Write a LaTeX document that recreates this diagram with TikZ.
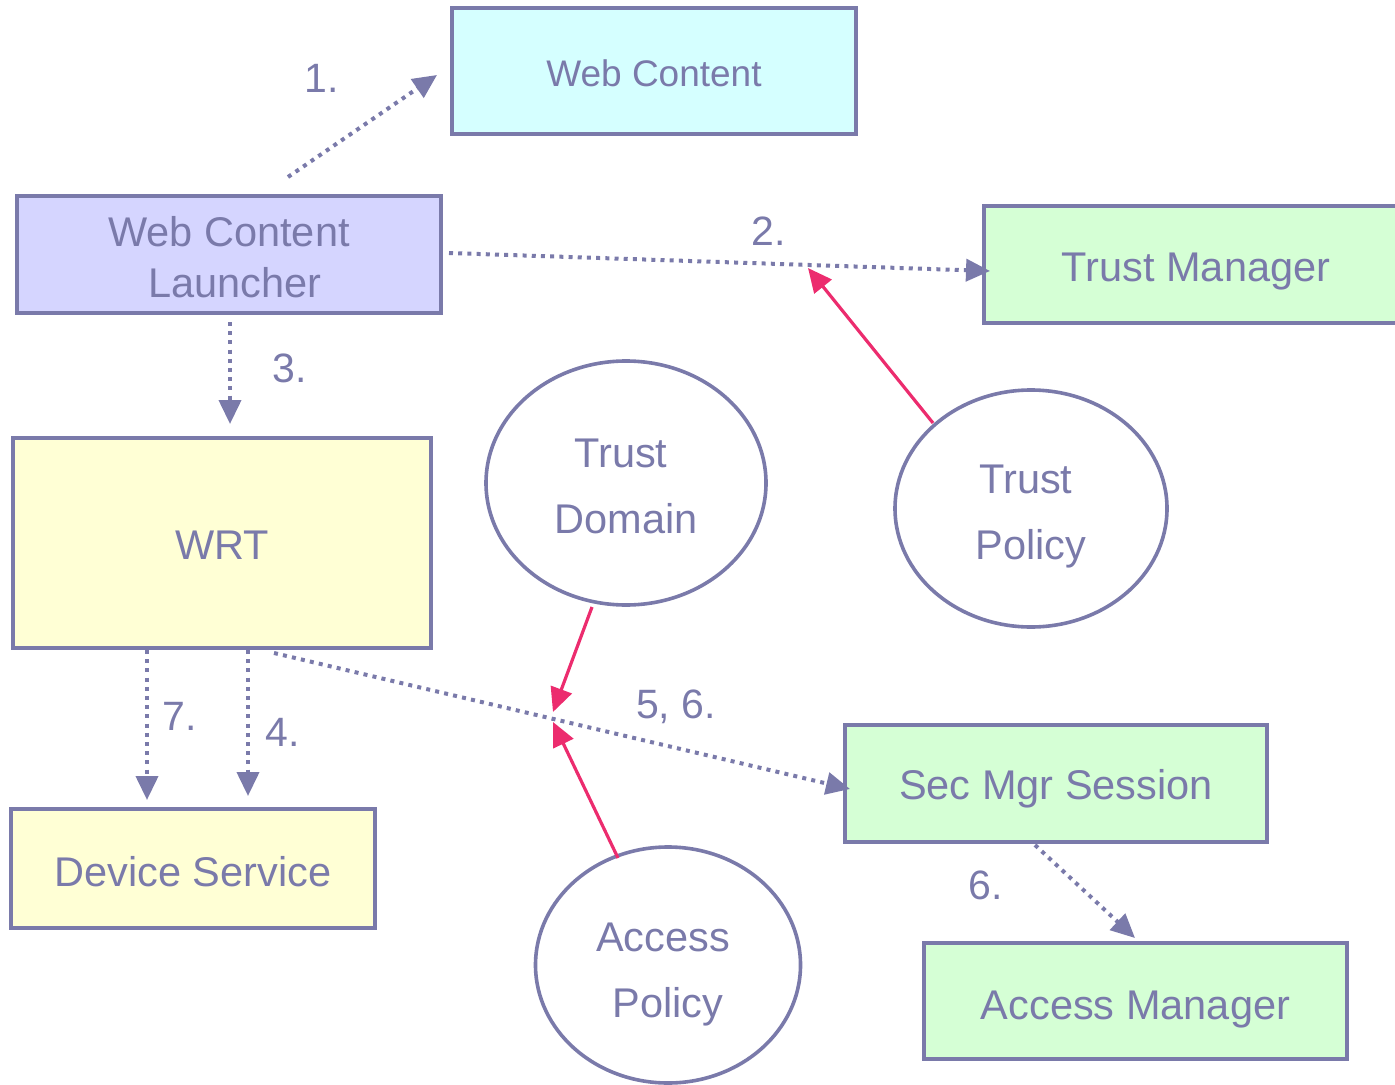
\documentclass[tikz,border=0pt]{standalone}
\usepackage{fontspec}
\setmainfont{Liberation Sans}
\usetikzlibrary{arrows.meta,shapes.geometric}
\definecolor{ink}{HTML}{7A7AAA}
\definecolor{hot}{HTML}{EC2C6E}
\definecolor{cyanfill}{HTML}{D5FFFF}
\definecolor{lilacfill}{HTML}{D5D5FF}
\definecolor{greenfill}{HTML}{D5FFD5}
\definecolor{yellowfill}{HTML}{FFFFD5}
% lower a line of text without changing its box
\newcommand\dropline[2]{\raisebox{-#1}[\height][\depth]{#2}}
\tikzset{
  box/.style={draw=ink, line width=2pt, rectangle, inner sep=0pt, text=ink,
    align=center, font=\fontsize{20.75}{25.5}\selectfont},
  bubble/.style={draw=ink, line width=1.8pt, ellipse, fill=white, inner sep=0pt,
    text=ink, align=center, font=\fontsize{20.75}{33}\selectfont},
  flow/.style={draw=ink, line width=2pt, dash pattern=on 2pt off 2.6pt,
    -{Triangle[length=12pt,width=11pt]}},
  rule/.style={draw=hot, line width=1.6pt, -{Triangle[length=12pt,width=11pt]}},
  steplabel/.style={text=ink, font=\fontsize{20.5}{24}\selectfont, inner sep=0pt}
}
\begin{document}
\begin{tikzpicture}[x=0.5pt, y=-0.5pt]
  \useasboundingbox (0,0) rectangle (1395,1085);
  \clip (0,0) rectangle (1395,1085);

  % components
  \node[box, fill=cyanfill, minimum width=202pt, minimum height=63pt,
        font=\fontsize{18.5}{22}\selectfont] (wc) at (654,71)
        {\dropline{1pt}{Web Content}};
  \node[box, fill=lilacfill, minimum width=212pt, minimum height=58.5pt] (wcl)
        at (229,254.5)
        {\dropline{1.25pt}{Web Content}\\\dropline{1.25pt}{\hspace*{6pt}Launcher}};
  \node[box, fill=greenfill, minimum width=212pt, minimum height=58.5pt] (tm)
        at (1196,264.5) {\dropline{3.5pt}{Trust Manager}};
  \node[box, fill=yellowfill, minimum width=209pt, minimum height=105pt] (wrt)
        at (222,543) {\dropline{1pt}{WRT}};
  \node[box, fill=yellowfill, minimum width=182pt, minimum height=59.5pt] (ds)
        at (193,868.5) {\dropline{1.5pt}{Device Service}};
  \node[box, fill=greenfill, minimum width=211pt, minimum height=58.5pt] (sms)
        at (1056,783.5) {\dropline{2.5pt}{Sec Mgr Session}};
  \node[box, fill=greenfill, minimum width=211.5pt, minimum height=58pt] (am)
        at (1135.5,1001) {\dropline{4.5pt}{Access Manager}};

  % policies and domains
  \node[bubble, minimum width=140pt, minimum height=122pt] (td) at (626,483)
        {\dropline{1.5pt}{Trust\hspace*{5pt}}\\\dropline{1.5pt}{Domain}};
  \node[bubble, minimum width=136pt, minimum height=118.5pt] (tp) at (1031,508.5)
        {\dropline{4pt}{Trust\hspace*{5pt}}\\\dropline{4pt}{Policy}};
  \node[bubble, minimum width=132.5pt, minimum height=118pt] (ap) at (668,965)
        {\dropline{5pt}{Access\hspace*{5pt}}\\\dropline{5pt}{Policy}};

  % connector end points
  \coordinate (s1) at (288,177);  \coordinate (e1) at (437,75);
  \coordinate (s2) at (449,253);  \coordinate (e2) at (990,271);
  \coordinate (s3) at (230,322);  \coordinate (e3) at (230,424);
  \coordinate (s4) at (248,650);  \coordinate (e4) at (248,796);
  \coordinate (s7) at (147,650);  \coordinate (e7) at (147,800);
  \coordinate (s5) at (274,653);  \coordinate (e5) at (850,789);
  \coordinate (s6) at (1035,845); \coordinate (e6) at (1135,938);
  \coordinate (tpout) at (933,423);  \coordinate (tpin) at (808,268);
  \coordinate (tdout) at (592,607);  \coordinate (tdin) at (553,712);
  \coordinate (apout) at (618,858);  \coordinate (apin) at (553,722);

  % message flow
  \draw[flow] (s1) -- (e1);
  \draw[flow] (s2) -- (e2);
  \draw[flow] (s3) -- (e3);
  \draw[flow] (s4) -- (e4);
  \draw[flow] (s7) -- (e7);
  \draw[flow] (s5) -- (e5);
  \draw[flow] (s6) -- (e6);

  % policy references
  \draw[rule] (tpout) -- (tpin);
  \draw[rule] (tdout) -- (tdin);
  \draw[rule] (apout) -- (apin);

  % step numbers
  \node[steplabel] (l1) at (322,78) {1.};
  \node[steplabel] (l2) at (769,231) {2.};
  \node[steplabel] (l3) at (290,368) {3.};
  \node[steplabel] (l7) at (180,716) {7.};
  \node[steplabel] (l4) at (283,732) {4.};
  \node[steplabel] (l56) at (676,707) {5, 6.};
  \node[steplabel] (l6) at (986,885) {6.};
\end{tikzpicture}
\end{document}
